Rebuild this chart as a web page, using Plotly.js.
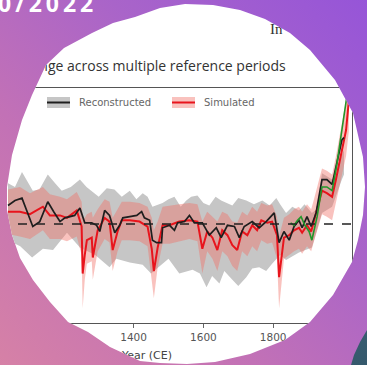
<!DOCTYPE html>
<html>
<head>
<meta charset="utf-8">
<script src="https://cdn.plot.ly/plotly-3.0.1.min.js"></script>
<style>
  html, body { margin:0; padding:0; }
  #wrap { position:relative; width:367px; height:365px; overflow:hidden;
    background: linear-gradient(45deg, #d681a6 0%, #c271b6 35%, #a964c9 65%, #9655d8 100%); }
  #chart { position:absolute; left:0; top:0; width:367px; height:365px; }
  #date { position:absolute; left:-2px; top:-8px; color:#fff; font-family:"Open Sans", sans-serif;
    font-weight:700; font-size:23px; letter-spacing:4px; line-height:23px; }
  #corner { position:absolute; left:0; top:0; width:367px; height:365px;
    background: linear-gradient(160deg, #5c8aa0 0%, #35596c 100%);
    clip-path: polygon(367px 330px, 360px 342px, 354px 355px, 351px 365px, 367px 365px); }
</style>
</head>
<body>
<div id="wrap">
  <div id="corner"></div>
  <div id="chart"></div>
  <div id="date">0/2022</div>
</div>
<script>
// Reconstructed (black line)
const recYears = [1040,1060,1080,1094,1111,1131,1154,1171,1189,1203,1217,1231,1246,1260,1280,1294,1303,1317,1331,1346,1360,1369,1389,1409,1423,1431,1446,1454,1466,1480,1483,1503,1517,1526,1546,1560,1574,1597,1617,1637,1651,1669,1689,1703,1717,1740,1760,1780,1803,1817,1831,1846,1860,1874,1883,1897,1909,1923,1940,1954,1969,1980,1997,2003];
const recMean = [0.15,0.19,0.21,0.10,-0.02,0.02,0.18,0.10,0.02,0.05,0.06,0.07,0.13,0.01,0.01,-0.01,-0.06,0.11,0.07,-0.07,-0.01,0.05,0.06,0.07,0.10,0.05,0.03,-0.13,-0.15,-0.15,-0.03,-0.01,-0.05,0.01,0.02,0.07,0.01,0.01,-0.09,-0.03,-0.11,-0.01,-0.02,-0.11,-0.02,0.02,-0.03,0.02,0.09,-0.15,-0.06,-0.13,-0.02,0.03,-0.03,0.06,-0.02,0.09,0.36,0.36,0.32,0.46,0.68,0.70];
// Reconstructed range (grey band)
const recHighYears = [1040,1060,1080,1095,1111,1130,1154,1175,1194,1220,1246,1265,1283,1300,1323,1345,1366,1389,1408,1426,1440,1454,1483,1500,1517,1535,1551,1565,1583,1600,1617,1635,1651,1665,1683,1700,1723,1745,1769,1790,1809,1820,1837,1855,1874,1890,1911,1925,1940,1969,1997,2003];
const recHigh = [0.33,0.30,0.42,0.35,0.27,0.28,0.40,0.33,0.27,0.30,0.36,0.30,0.26,0.22,0.29,0.28,0.22,0.27,0.20,0.25,0.22,0.14,0.17,0.20,0.22,0.14,0.19,0.22,0.23,0.17,0.15,0.22,0.19,0.17,0.15,0.21,0.19,0.16,0.19,0.15,0.21,0.16,0.09,0.14,0.11,0.16,0.09,0.12,0.41,0.36,0.57,0.60];
const recLowYears = [1040,1075,1109,1140,1169,1209,1246,1290,1331,1350,1389,1426,1450,1483,1500,1531,1569,1590,1609,1625,1646,1660,1683,1700,1723,1740,1760,1780,1797,1820,1837,1874,1911,1940,1969,1997,2003];
const recLow = [-0.13,-0.18,-0.27,-0.20,-0.21,-0.07,-0.19,-0.25,-0.35,-0.28,-0.31,-0.33,-0.40,-0.32,-0.28,-0.40,-0.37,-0.40,-0.51,-0.42,-0.48,-0.38,-0.45,-0.50,-0.43,-0.36,-0.35,-0.38,-0.32,-0.25,-0.29,-0.23,-0.19,0.09,0.14,0.36,0.40];
// Simulated (red line + pink band)
const simYears = [1040,1074,1103,1140,1160,1189,1209,1237,1251,1254,1260,1266,1280,1283,1297,1317,1331,1340,1354,1366,1389,1417,1440,1452,1458,1469,1483,1503,1531,1560,1583,1597,1611,1626,1640,1654,1669,1683,1697,1711,1726,1740,1754,1766,1783,1797,1811,1817,1831,1846,1860,1874,1883,1897,1909,1917,1940,1954,1969,1980,1997,2009,2017];
const simMean = [0.10,0.10,0.08,0.14,0.07,0.07,0.05,0.11,-0.02,-0.40,-0.25,-0.13,-0.11,-0.27,-0.05,0.05,0.02,-0.21,-0.06,0.03,0.03,0.02,-0.02,-0.20,-0.38,-0.19,-0.01,-0.01,0.02,0.03,0.02,-0.20,-0.06,-0.11,-0.21,-0.05,-0.09,-0.17,-0.21,-0.06,-0.09,-0.01,-0.05,0.03,0.01,0.02,-0.09,-0.43,-0.11,-0.09,-0.05,-0.03,-0.07,-0.01,-0.06,0.03,0.27,0.25,0.22,0.36,0.60,0.76,1.00];
const simHigh = [0.28,0.30,0.25,0.30,0.24,0.22,0.20,0.26,0.18,0.05,0.05,0.08,0.10,0.05,0.12,0.20,0.18,0.05,0.12,0.18,0.18,0.17,0.14,0.05,-0.05,0.02,0.14,0.15,0.16,0.17,0.16,0.02,0.10,0.06,0.02,0.10,0.08,0.02,0.01,0.10,0.07,0.14,0.10,0.17,0.15,0.16,0.06,-0.10,0.05,0.08,0.12,0.14,0.10,0.16,0.12,0.20,0.45,0.43,0.40,0.55,0.80,1.00,1.25];
const simLow = [-0.08,-0.10,-0.12,-0.05,-0.12,-0.12,-0.14,-0.10,-0.25,-0.68,-0.45,-0.32,-0.30,-0.45,-0.22,-0.12,-0.15,-0.38,-0.22,-0.13,-0.13,-0.14,-0.18,-0.45,-0.60,-0.35,-0.16,-0.16,-0.14,-0.12,-0.14,-0.40,-0.22,-0.28,-0.38,-0.22,-0.26,-0.34,-0.38,-0.22,-0.26,-0.18,-0.22,-0.13,-0.16,-0.15,-0.28,-0.68,-0.28,-0.25,-0.22,-0.20,-0.24,-0.18,-0.22,-0.14,0.08,0.06,0.03,0.17,0.40,0.55,0.75];
// Green line (instrumental)
const obsYears = [1850,1860,1870,1880,1891,1903,1911,1926,1940,1954,1969,1983,1997,2009,2020];
const obsMean = [0.01,-0.01,0.03,0.06,-0.01,-0.06,-0.13,0.06,0.30,0.30,0.27,0.49,0.76,1.00,1.20];
// Axis ticks
const tickYears = [1000,1200,1400,1600,1800,2000];
const tickLabels = ['1000','1200','1400','1600','1800','2000'];

// Outline of the round photo crop (page pixels)
const cropOutline = [[185,4],[213,5],[240,10],[265,19],[290,33],[310,50],[335,80],[353,113],[363,157],[365,187],[363,215],[358,240],[352,262],[333,295],[310,322],[285,340],[250,354],[215,362],[187,364],[160,363],[140,361],[110,347],[88,332],[68,322],[50,302],[33,280],[20,258],[12,235],[7,210],[7,187],[12,155],[22,120],[32,95],[46,65],[64,48],[92,33],[113,23],[135,17],[160,8]];
document.getElementById('chart').style.clipPath =
  'polygon(' + cropOutline.map(p => p[0] + 'px ' + p[1] + 'px').join(', ') + ')';

function band(xh, yh, xl, yl) {
  return { x: xh.concat(xl.slice().reverse()), y: yh.concat(yl.slice().reverse()) };
}
const gB = band(recHighYears, recHigh, recLowYears, recLow);
const pB = band(simYears, simHigh, simYears, simLow);

const traces = [
  { x: gB.x, y: gB.y, type:'scatter', mode:'lines', fill:'toself', fillcolor:'rgb(198,198,198)',
    line:{width:0, color:'rgba(0,0,0,0)'}, hoverinfo:'skip', showlegend:false },
  { x: pB.x, y: pB.y, type:'scatter', mode:'lines', fill:'toself', fillcolor:'rgba(240,110,100,0.42)',
    line:{width:0, color:'rgba(0,0,0,0)'}, hoverinfo:'skip', showlegend:false },
  { x: simYears, y: simMean, type:'scatter', mode:'lines', name:'Simulated',
    line:{color:'#e8141c', width:2}, showlegend:false },
  { x: recYears, y: recMean, type:'scatter', mode:'lines', name:'Reconstructed',
    line:{color:'#1e1e1e', width:1.7}, showlegend:false },
  { x: obsYears, y: obsMean, type:'scatter', mode:'lines', name:'Observed',
    line:{color:'#22962a', width:1.6}, showlegend:false }
];

const W = 352, T = 88, H = 235;
function px(x) { return x / W; }
function py(y) { return 1 - (y - T) / H; }

const layout = {
  width: 367, height: 365,
  margin: {l:0, r:15, t:88, b:42},
  paper_bgcolor:'#ffffff', plot_bgcolor:'#ffffff',
  showlegend:false,
  xaxis: { range:[1017, 2026], tickvals: tickYears, ticktext: tickLabels,
    ticks:'outside', ticklen:4, tickcolor:'#666', showgrid:false, zeroline:false,
    showline:true, mirror:true, linecolor:'#555', linewidth:1.3,
    tickfont:{family:'DejaVu Sans', size:10.5, color:'#555'} },
  yaxis: { range:[-0.8, 1.1], showgrid:false, zeroline:false, showticklabels:false, ticks:'',
    showline:true, mirror:true, linecolor:'#555', linewidth:1.3 },
  shapes: [
    { type:'line', xref:'paper', x0:0, x1:1, yref:'y', y0:0, y1:0,
      line:{color:'#222', width:1.5, dash:'dash'} },
    { type:'rect', xref:'paper', yref:'paper', x0:px(47), x1:px(70), y0:py(108), y1:py(97),
      fillcolor:'rgb(198,198,198)', line:{width:0} },
    { type:'line', xref:'paper', yref:'paper', x0:px(47), x1:px(70), y0:py(102.5), y1:py(102.5),
      line:{color:'#1e1e1e', width:2} },
    { type:'rect', xref:'paper', yref:'paper', x0:px(172), x1:px(195), y0:py(108), y1:py(97),
      fillcolor:'rgba(240,110,100,0.42)', line:{width:0} },
    { type:'line', xref:'paper', yref:'paper', x0:px(172), x1:px(195), y0:py(102.5), y1:py(102.5),
      line:{color:'#e8141c', width:2} }
  ],
  annotations: [
    { text:'Temperature change across multiple reference periods', xref:'paper', yref:'paper',
      x:px(288), y:py(65), xanchor:'right', yanchor:'middle', showarrow:false,
      font:{family:'Open Sans', size:14, color:'#333'} },
    { text:'In', xref:'paper', yref:'paper', x:px(268), y:py(29), xanchor:'left', yanchor:'middle',
      showarrow:false, font:{family:'Liberation Serif', size:15, color:'#333'} },
    { text:'Reconstructed', xref:'paper', yref:'paper', x:px(77), y:py(102.5), xanchor:'left', yanchor:'middle',
      showarrow:false, font:{family:'DejaVu Sans', size:10, color:'#666'} },
    { text:'Simulated', xref:'paper', yref:'paper', x:px(202), y:py(102.5), xanchor:'left', yanchor:'middle',
      showarrow:false, font:{family:'DejaVu Sans', size:10, color:'#666'} },
    { text:'Year (CE)', xref:'paper', yref:'paper', x:px(146), y:py(355), xanchor:'center', yanchor:'middle',
      showarrow:false, font:{family:'DejaVu Sans', size:11, color:'#444'} }
  ]
};

Plotly.newPlot('chart', traces, layout, {displayModeBar:false, staticPlot:true});
</script>
</body>
</html>
